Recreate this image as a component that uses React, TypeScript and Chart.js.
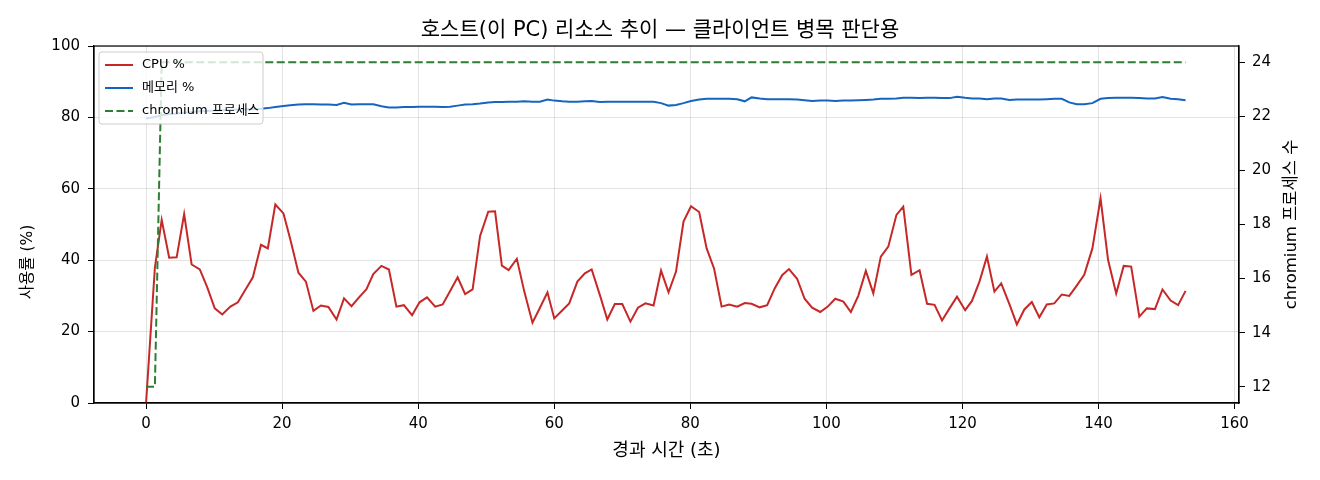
import { useEffect, useRef } from 'react';
import { Chart, registerables } from 'chart.js';
import type { Plugin } from 'chart.js';

Chart.register(...registerables);

const FONT = '"DejaVu Sans", "Noto Sans CJK KR", sans-serif';

const TITLE    = '호스트(이 PC) 리소스 추이 — 클라이언트 병목 판단용';
const X_TITLE  = '경과 시간 (초)';
const Y_TITLE  = '사용률 (%)';
const Y2_TITLE = 'chromium 프로세스 수';

const cpuColor = '#c62828';
const memColor = '#1565c0';
const proColor = '#2e7d32';
const gridColor = 'rgba(176,176,176,0.35)';

// elapsed seconds of each sample
const elapsed = [
  0, 1.3, 2.3, 3.4, 4.5, 5.6, 6.7, 7.9, 9.0, 10.1,
  11.2, 12.4, 13.5, 14.6, 15.7, 16.9, 17.9, 19.0, 20.2, 21.2,
  22.4, 23.5, 24.6, 25.7, 26.8, 28.0, 29.1, 30.2, 31.3, 32.4,
  33.4, 34.6, 35.7, 36.8, 37.9, 39.1, 40.2, 41.3, 42.5, 43.6,
  44.7, 45.8, 46.9, 48.0, 49.1, 50.3, 51.3, 52.3, 53.3, 54.5,
  55.6, 56.8, 57.9, 59.0, 60.0, 61.2, 62.2, 63.4, 64.5, 65.5,
  66.7, 67.8, 68.9, 70.0, 71.2, 72.3, 73.4, 74.6, 75.7, 76.8,
  77.9, 79.0, 80.1, 81.3, 82.4, 83.5, 84.6, 85.7, 86.9, 88.0,
  89.0, 90.2, 91.3, 92.4, 93.5, 94.5, 95.7, 96.8, 97.9, 99.1,
  100.2, 101.3, 102.5, 103.6, 104.7, 105.8, 106.9, 108.0, 109.1, 110.3,
  111.3, 112.5, 113.7, 114.8, 115.9, 117.0, 118.1, 119.2, 120.4, 121.4,
  122.5, 123.6, 124.7, 125.7, 126.9, 128.0, 129.1, 130.2, 131.3, 132.4,
  133.5, 134.6, 135.7, 136.8, 137.9, 139.1, 140.3, 141.4, 142.6, 143.7,
  144.8, 146.0, 147.1, 148.3, 149.4, 150.6, 151.7, 152.8,
];

const cpu = [
  0, 37.9, 51.3, 40.7, 40.8, 52.9, 38.8, 37.4, 32.4, 26.5,
  24.8, 27.0, 28.2, 31.7, 35.2, 44.3, 43.3, 55.6, 53.1, 45.9,
  36.5, 34.0, 25.8, 27.3, 26.9, 23.4, 29.3, 27.1, 29.6, 31.9,
  36.1, 38.4, 37.4, 27.0, 27.4, 24.6, 28.2, 29.6, 27.0, 27.6,
  31.4, 35.2, 30.5, 31.8, 46.8, 53.6, 53.7, 38.5, 37.2, 40.4,
  31.2, 22.5, 26.7, 31.0, 23.7, 26.0, 27.9, 34.0, 36.3, 37.4,
  30.3, 23.4, 27.7, 27.7, 22.8, 26.7, 27.9, 27.3, 37.1, 31.0,
  36.8, 50.8, 55.1, 53.5, 43.3, 37.6, 27.0, 27.6, 27.0, 28.0,
  27.8, 26.8, 27.4, 32.1, 35.8, 37.5, 34.8, 29.2, 26.7, 25.5,
  27.0, 29.2, 28.4, 25.5, 30.1, 37.0, 30.7, 41.0, 43.8, 52.7,
  55.0, 35.9, 37.2, 27.8, 27.5, 23.1, 26.5, 29.8, 26.0, 28.6,
  34.0, 41.0, 31.2, 33.5, 27.7, 22.0, 26.2, 28.3, 24.0, 27.6,
  27.9, 30.4, 30.0, 32.9, 35.9, 43.3, 57.3, 40.1, 30.7, 38.4,
  38.2, 24.2, 26.5, 26.3, 31.8, 28.7, 27.4, 31.4,
];

const memory = [
  79.7, 80.1, 80.6, 80.9, 81.1, 81.3, 81.5, 81.7, 81.8, 81.9,
  82.0, 82.1, 82.2, 82.3, 82.3, 82.4, 82.6, 82.9, 83.2, 83.4,
  83.6, 83.7, 83.7, 83.6, 83.6, 83.5, 84.1, 83.6, 83.7, 83.7,
  83.7, 83.1, 82.8, 82.8, 82.9, 82.9, 83.0, 83.0, 83.0, 82.9,
  83.0, 83.3, 83.6, 83.7, 83.9, 84.2, 84.3, 84.3, 84.4, 84.4,
  84.5, 84.4, 84.4, 85.0, 84.7, 84.5, 84.4, 84.4, 84.5, 84.6,
  84.3, 84.4, 84.4, 84.4, 84.4, 84.4, 84.4, 84.4, 84.0, 83.3,
  83.5, 84.0, 84.6, 85.0, 85.2, 85.2, 85.2, 85.2, 85.1, 84.5,
  85.6, 85.3, 85.1, 85.1, 85.1, 85.1, 85.0, 84.8, 84.6, 84.7,
  84.7, 84.6, 84.7, 84.7, 84.8, 84.9, 85.0, 85.2, 85.2, 85.3,
  85.5, 85.5, 85.4, 85.5, 85.5, 85.4, 85.4, 85.8, 85.5, 85.3,
  85.3, 85.1, 85.3, 85.3, 84.9, 85.0, 85.0, 85.0, 85.0, 85.1,
  85.2, 85.2, 84.2, 83.7, 83.7, 84.0, 85.2, 85.4, 85.5, 85.5,
  85.5, 85.4, 85.3, 85.3, 85.7, 85.2, 85.1, 84.8,
];

const chromium = [
  12, 12, 24, 24, 24, 24, 24, 24, 24, 24,
  24, 24, 24, 24, 24, 24, 24, 24, 24, 24,
  24, 24, 24, 24, 24, 24, 24, 24, 24, 24,
  24, 24, 24, 24, 24, 24, 24, 24, 24, 24,
  24, 24, 24, 24, 24, 24, 24, 24, 24, 24,
  24, 24, 24, 24, 24, 24, 24, 24, 24, 24,
  24, 24, 24, 24, 24, 24, 24, 24, 24, 24,
  24, 24, 24, 24, 24, 24, 24, 24, 24, 24,
  24, 24, 24, 24, 24, 24, 24, 24, 24, 24,
  24, 24, 24, 24, 24, 24, 24, 24, 24, 24,
  24, 24, 24, 24, 24, 24, 24, 24, 24, 24,
  24, 24, 24, 24, 24, 24, 24, 24, 24, 24,
  24, 24, 24, 24, 24, 24, 24, 24, 24, 24,
  24, 24, 24, 24, 24, 24, 24, 24,
];

const xTicks  = [0, 20, 40, 60, 80, 100, 120, 140, 160];
const yTicks  = [0, 20, 40, 60, 80, 100];
const y2Ticks = [12, 14, 16, 18, 20, 22, 24];

const toPoints = (vals: number[]) => vals.map((v, i) => ({ x: elapsed[i], y: v }));

// spines all round, boxed legend top-left and both y axis titles (drawn bottom-to-top)
const decorations: Plugin<'line'> = {
  id: 'decorations',
  afterDraw(chart) {
    const { ctx, chartArea: a } = chart;
    ctx.save();
    ctx.strokeStyle = '#000';
    ctx.lineWidth = 1.2;
    ctx.strokeRect(a.left, a.top, a.right - a.left, a.bottom - a.top);

    const bx = a.left + 5, by = a.top + 6, bw = 164, bh = 72;
    ctx.beginPath();
    ctx.roundRect(bx, by, bw, bh, 3);
    ctx.fillStyle = 'rgba(255,255,255,0.8)';
    ctx.fill();
    ctx.strokeStyle = '#cccccc';
    ctx.lineWidth = 1;
    ctx.stroke();

    chart.data.datasets.forEach((ds: any, i) => {
      const y = by + 13 + i * 23;
      ctx.beginPath();
      ctx.setLineDash(ds.borderDash || []);
      ctx.strokeStyle = ds.borderColor;
      ctx.lineWidth = 2;
      ctx.moveTo(bx + 6, y);
      ctx.lineTo(bx + 34, y);
      ctx.stroke();
      ctx.setLineDash([]);
      ctx.fillStyle = '#000';
      ctx.font = `13px ${FONT}`;
      ctx.textAlign = 'left';
      ctx.textBaseline = 'middle';
      ctx.fillText(ds.label, bx + 43, y);
    });

    const vTitle = (text: string, x: number, y: number, size: number) => {
      ctx.save();
      ctx.translate(x, y);
      ctx.rotate(-Math.PI / 2);
      ctx.font = `${size}px ${FONT}`;
      ctx.textAlign = 'center';
      ctx.textBaseline = 'middle';
      ctx.fillStyle = '#000';
      ctx.fillText(text, 0, 0);
      ctx.restore();
    };
    vTitle(Y_TITLE, 28, 262, 15.5);
    vTitle(Y2_TITLE, chart.width - 28, (a.top + a.bottom) / 2, 16.5);
    ctx.restore();
  },
};

export default function App() {
  const ref = useRef<HTMLCanvasElement>(null);

  useEffect(() => {
    if (!ref.current) return;
    const tickFont = { family: FONT, size: 15 };

    const chart = new Chart(ref.current, {
      type: 'line',
      data: {
        datasets: [
          {
            label: 'CPU %',
            data: toPoints(cpu),
            borderColor: cpuColor,
            borderWidth: 2,
            pointRadius: 0,
            tension: 0,
            yAxisID: 'y',
            order: 3,
          },
          {
            label: '메모리 %',
            data: toPoints(memory),
            borderColor: memColor,
            borderWidth: 2,
            pointRadius: 0,
            tension: 0,
            yAxisID: 'y',
            order: 2,
          },
          {
            label: 'chromium 프로세스',
            data: toPoints(chromium),
            borderColor: proColor,
            borderWidth: 2,
            borderDash: [8, 3.5],
            pointRadius: 0,
            tension: 0,
            yAxisID: 'y2',
            order: 1,
          },
        ],
      },
      options: {
        animation: false,
        responsive: true,
        maintainAspectRatio: false,
        layout: { padding: 0 },
        plugins: {
          legend: { display: false },
          tooltip: { enabled: false },
          title: {
            display: true,
            text: TITLE,
            color: '#000',
            font: { family: FONT, size: 21, weight: 'normal' },
            padding: { top: 18, bottom: 2.8 },
          },
        },
        scales: {
          x: {
            type: 'linear',
            min: -7.65,
            max: 160.65,
            afterFit: (s) => { s.height = 77; },
            afterBuildTicks: (s) => { s.ticks = xTicks.map((v) => ({ value: v })); },
            grid: { color: gridColor, tickColor: '#000', tickLength: 6 },
            border: { color: '#000', width: 1.2 },
            ticks: { color: '#000', font: tickFont, padding: 6, maxRotation: 0 },
            title: { display: true, text: X_TITLE, color: '#000', font: { family: FONT, size: 18 }, padding: { top: 0, bottom: 18.2 } },
          },
          y: {
            position: 'left',
            min: 0,
            max: 100,
            afterFit: (s) => { s.width = 94; },
            afterBuildTicks: (s) => { s.ticks = yTicks.map((v) => ({ value: v })); },
            grid: { color: gridColor, tickColor: '#000', tickLength: 6 },
            border: { color: '#000', width: 1.2 },
            ticks: { color: '#000', font: tickFont, padding: 8 },
          },
          y2: {
            position: 'right',
            min: 11.4,
            max: 24.6,
            afterFit: (s) => { s.width = 81; },
            afterBuildTicks: (s) => { s.ticks = y2Ticks.map((v) => ({ value: v })); },
            grid: { drawOnChartArea: false, tickColor: '#000', tickLength: 6 },
            border: { color: '#000', width: 1.2 },
            ticks: { color: '#000', font: tickFont, padding: 7 },
          },
        },
      },
      plugins: [decorations],
    });
    return () => chart.destroy();
  }, []);

  return (
    <div style={{ position: 'fixed', left: 0, top: 0, width: 1320, height: 480, background: '#fff' }}>
      <canvas ref={ref} />
    </div>
  );
}
